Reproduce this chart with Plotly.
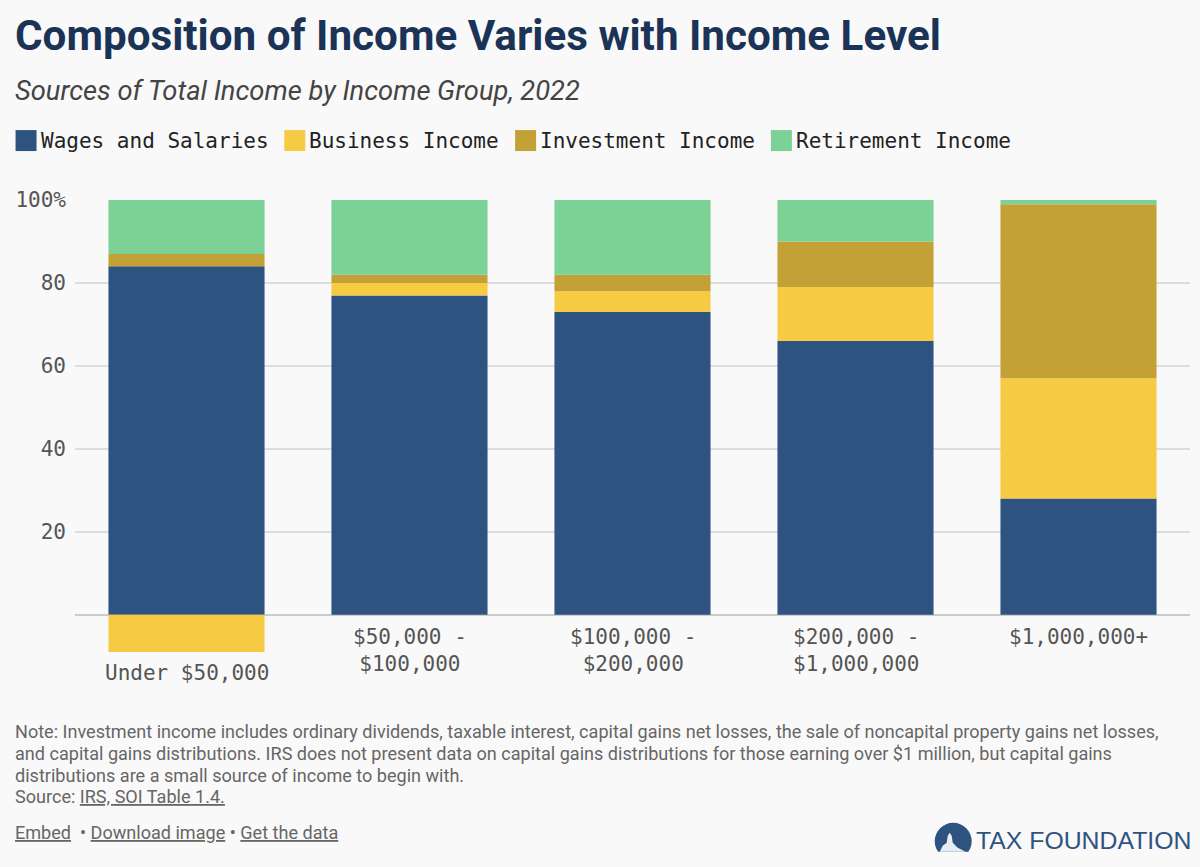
import plotly.graph_objects as go

categories = ["Under $50,000", "$50,000 -<br>$100,000", "$100,000 -<br>$200,000", "$200,000 -<br>$1,000,000", "$1,000,000+"]
wages = [84, 77, 73, 66, 28]
business = [-9, 3, 5, 13, 29]
investment = [3, 2, 4, 11, 42]
retirement = [13, 18, 18, 10, 1]
series_names = ["Wages and Salaries", "Business Income", "Investment Income", "Retirement Income"]
series_values = [wages, business, investment, retirement]
series_colors = ["#2f5380", "#f7ca44", "#c4a136", "#7bd196"]
y_ticks = [20, 40, 60, 80, 100]
y_labels = ["20", "40", "60", "80", "100%"]
note_lines = [
    "Note: Investment income includes ordinary dividends, taxable interest, capital gains net losses, the sale of noncapital property gains net losses,",
    "and capital gains distributions. IRS does not present data on capital gains distributions for those earning over $1 million, but capital gains",
    "distributions are a small source of income to begin with.",
    "Source: <u>IRS, SOI Table 1.4.</u>",
]

W, H = 1200, 867
L, R, T, B = 74.5, 1190.5, 199.5, 652
BG = "#f9f9f9"
MONO = "DejaVu Sans Mono"
SANS = "Roboto"
TEXT = "#555555"

def px(x): return (x - L) / (R - L)
def py(y): return (B - y) / (B - T)

fig = go.Figure()
for name, vals, col in zip(series_names, series_values, series_colors):
    fig.add_bar(x=categories, y=vals, name=name, marker=dict(color=col, line_width=0), width=0.7, showlegend=False)

ann = []
shapes = []
def text(x, y, s, size, color, family=SANS, anchor="left", va="middle"):
    ann.append(dict(x=px(x), y=py(y), xref="paper", yref="paper", text=s, showarrow=False,
                    xanchor=anchor, yanchor=va, align=anchor, borderpad=0,
                    font=dict(size=size, color=color, family=family)))

text(13, 35, "<b>Composition of Income Varies with Income Level</b>", 42.2, "#1a3357")
text(13, 90, "<i>Sources of Total Income by Income Group, 2022</i>", 27.3, "#444444")

for sx, name, col in zip([15, 284, 515, 771], series_names, series_colors):
    shapes.append(dict(type="rect", xref="paper", yref="paper", x0=px(sx), x1=px(sx + 21), y0=py(150.5), y1=py(129.5),
                       fillcolor=col, line_width=0))
    text(sx + 24, 140, name, 21, "#222222", family=MONO)

for i, c in enumerate(categories):
    top = min(0, business[i])
    ann.append(dict(x=c, y=top, xref="x", yref="y", text=c, showarrow=False, xanchor="center", yanchor="top",
                    yshift=-8 if top < 0 else -9, align="center", borderpad=0,
                    font=dict(size=21, color=TEXT, family=MONO)))

for ly, line in zip([732, 754, 776, 797], note_lines):
    text(13, ly, line, 18.07, "#666666")
text(13, 833, "<u>Embed</u>  • <u>Download image</u> • <u>Get the data</u>", 18.07, "#666666")

# logo
LOGO = "#2f5380"
shapes.append(dict(type="circle", xref="paper", yref="paper", x0=px(935), x1=px(972), y0=py(860), y1=py(823),
                   fillcolor=LOGO, line_width=0))
shapes.append(dict(type="rect", xref="paper", yref="paper", x0=px(938), x1=px(969), y0=py(861), y1=py(852),
                   fillcolor=BG, line_width=0))
shapes.append(dict(type="path", xref="paper", yref="paper",
                   path=f"M {px(940)} {py(852)} L {px(943)} {py(846)} L {px(947)} {py(843)} L {px(948)} {py(836)} L {px(950)} {py(833)} L {px(952)} {py(836)} L {px(953)} {py(843)} L {px(958)} {py(848)} L {px(966)} {py(852)} Z",
                   fillcolor="#e8edf3", line_width=0))
text(975, 841, "TAX FOUNDATION", 24.8, LOGO, family="Liberation Sans")

fig.update_layout(
    width=W, height=H, barmode="relative", bargap=0.3, paper_bgcolor=BG, plot_bgcolor=BG,
    margin=dict(l=L, r=W - R, t=T, b=H - B, pad=0), annotations=ann, shapes=shapes, showlegend=False,
    xaxis=dict(showticklabels=False, showgrid=False, zeroline=False, ticks="", showline=False, fixedrange=True,
               categoryorder="array", categoryarray=categories),
    yaxis=dict(range=[-9, 100], tickvals=y_ticks, ticktext=y_labels, ticks="", showline=False,
               showgrid=True, gridcolor="#dddddd", gridwidth=1.5, zeroline=True, zerolinecolor="#cccccc", zerolinewidth=1.5,
               tickfont=dict(size=21, color=TEXT, family=MONO), ticklabelstandoff=8, fixedrange=True),
)
fig.write_html("out.html", config=dict(displayModeBar=False),
               post_script="document.body.style.margin='0';document.body.style.background='" + BG + "';")
